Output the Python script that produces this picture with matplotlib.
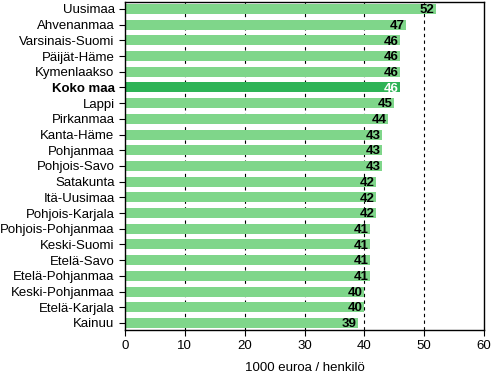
import matplotlib.pyplot as plt

plt.rcParams['font.family'] = ['Liberation Sans', 'DejaVu Sans']

# ── Data ──────────────────────────────────────────────
regions = ["Uusimaa", "Ahvenanmaa", "Varsinais-Suomi", "Päijät-Häme", "Kymenlaakso",
           "Koko maa", "Lappi", "Pirkanmaa", "Kanta-Häme", "Pohjanmaa", "Pohjois-Savo",
           "Satakunta", "Itä-Uusimaa", "Pohjois-Karjala", "Pohjois-Pohjanmaa", "Keski-Suomi",
           "Etelä-Savo", "Etelä-Pohjanmaa", "Keski-Pohjanmaa", "Etelä-Karjala", "Kainuu"]
values = [52, 47, 46, 46, 46, 46, 45, 44, 43, 43, 43, 42, 42, 42, 41, 41, 41, 41, 40, 40, 39]
highlight = "Koko maa"

light = "#7fd68a"
dark = "#2eb356"

fig = plt.figure(figsize=(4.92, 3.78), dpi=100)
ax = fig.add_axes([0.254, 0.127, 0.730, 0.868])

pos = list(range(len(regions)))
colors = [dark if r == highlight else light for r in regions]
ax.barh(pos, values, height=0.64, color=colors, zorder=2)

for p, v, r in zip(pos, values, regions):
    ax.text(v - 0.3, p + 0.08, f"{v}", ha="right", va="center", fontsize=9.5,
            fontweight="bold", color="white" if r == highlight else "black", zorder=3)

ax.set_xlim(0, 60)
ax.set_ylim(len(regions) - 0.55, -0.45)
ax.set_xticks(range(0, 61, 10))
ax.set_yticks(pos)
ax.set_yticklabels(regions, fontsize=9.5)
for lbl in ax.get_yticklabels():
    if lbl.get_text() == highlight:
        lbl.set_fontweight("bold")
ax.tick_params(axis="x", labelsize=9.5, length=4, direction="out")
ax.tick_params(axis="y", length=4)

for x in range(10, 60, 10):
    ax.axvline(x, color="black", linestyle=(0, (3, 3)), linewidth=0.8, zorder=1)

for s in ax.spines.values():
    s.set_linewidth(1)

ax.set_xlabel("1000 euroa / henkilö", fontsize=9.5, labelpad=7)

plt.savefig("out.png", dpi=100)
